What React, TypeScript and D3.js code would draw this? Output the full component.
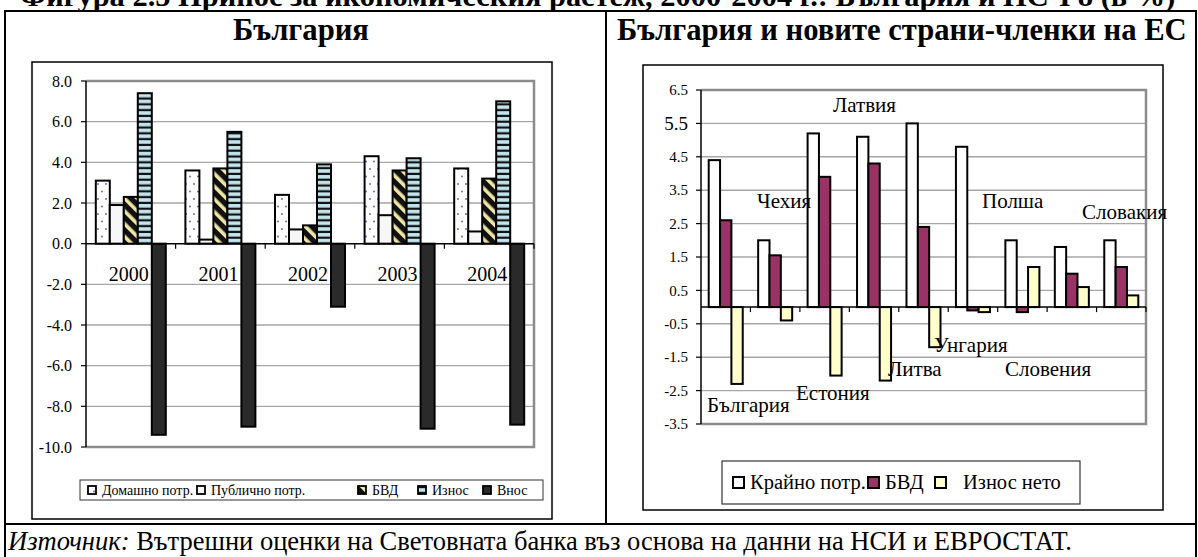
import React, { useEffect, useRef } from "react";
import * as d3 from "d3";

// Bulgaria: contributions to growth by component, 2000-2004 (%)
const years = ["2000", "2001", "2002", "2003", "2004"];
const bgSeries = ["Домашно потр.", "Публично потр.", "БВД", "Износ", "Внос"];
const domesticCons = [3.1, 3.6, 2.4, 4.3, 3.7];
const publicCons = [1.9, 0.2, 0.7, 1.4, 0.6];
const gfcfBg = [2.3, 3.7, 0.9, 3.6, 3.2];
const exportsBg = [7.4, 5.5, 3.9, 4.2, 7.0];
const importsBg = [-9.4, -9.0, -3.1, -9.1, -8.9];
const bgTicks = [8, 6, 4, 2, 0, -2, -4, -6, -8, -10];

// Bulgaria and the new EU member states
const countries = ["България", "Чехия", "Естония", "Латвия", "Литва", "Унгария", "Полша", "Словения", "Словакия"];
const euSeries = ["Крайно потр.", "БВД", "Износ нето"];
const finalCons = [4.4, 2.0, 5.2, 5.1, 5.5, 4.8, 2.0, 1.8, 2.0];
const gfcfEu = [2.6, 1.55, 3.9, 4.3, 2.4, -0.1, -0.15, 1.0, 1.2];
const netExports = [-2.3, -0.4, -2.05, -2.2, -1.2, -0.15, 1.2, 0.6, 0.35];
const euTicks = [6.5, 5.5, 4.5, 3.5, 2.5, 1.5, 0.5, -0.5, -1.5, -2.5, -3.5];

const FONT = "'Liberation Serif', 'Times New Roman', serif";
const fmt1 = (v: number) => v.toFixed(1);

type G = d3.Selection<SVGGElement, unknown, null, undefined>;
type S = d3.Selection<SVGSVGElement | null, unknown, null, undefined>;

// Size a text so that it spans [left, right] at the given baseline.
function fitText(parent: S | G, left: number, right: number, baseline: number,
  build: (t: d3.Selection<SVGTextElement, unknown, null, undefined>) => void, bold = false) {
  const probe = 20;
  const t = (parent as any).append("text").attr("x", left).attr("y", baseline)
    .attr("font-size", probe).attr("font-weight", bold ? "bold" : "normal");
  build(t);
  const w = (t.node() as SVGTextElement).getComputedTextLength() || 1;
  t.attr("font-size", (probe * (right - left)) / w);
}

export default function App() {
  const ref = useRef<SVGSVGElement>(null);

  useEffect(() => {
    document.body.style.margin = "0";
    const svg = d3.select(ref.current) as S;
    svg.selectAll("*").remove();
    svg.attr("font-family", FONT);

    // ---------- fill patterns ----------
    const defs = svg.append("defs");
    const dots = defs.append("pattern").attr("id", "pDots").attr("patternUnits", "userSpaceOnUse")
      .attr("width", 8).attr("height", 15);
    dots.append("rect").attr("width", 8).attr("height", 15).attr("fill", "#fff");
    dots.append("circle").attr("cx", 2).attr("cy", 4).attr("r", 0.9).attr("fill", "#5a5ab8");
    dots.append("circle").attr("cx", 6).attr("cy", 11.5).attr("r", 0.9).attr("fill", "#5a5ab8");

    const diag = defs.append("pattern").attr("id", "pDiag").attr("patternUnits", "userSpaceOnUse")
      .attr("width", 9).attr("height", 9).attr("patternTransform", "rotate(-45)");
    diag.append("rect").attr("width", 9).attr("height", 9).attr("fill", "#111");
    diag.append("rect").attr("width", 3.6).attr("height", 9).attr("fill", "#efe6a6");

    const hs = defs.append("pattern").attr("id", "pHStripe").attr("patternUnits", "userSpaceOnUse")
      .attr("width", 6).attr("height", 5.8);
    hs.append("rect").attr("width", 6).attr("height", 5.8).attr("fill", "#111");
    hs.append("rect").attr("y", 1).attr("width", 6).attr("height", 3.6).attr("fill", "#c3e5ee");

    const bgFills = ["url(#pDots)", "#f7f7f7", "url(#pDiag)", "url(#pHStripe)", "#2a2a2a"];
    const euFills = ["#ffffff", "#993366", "#ffffcc"];

    // ---------- table frame ----------
    fitText(svg, 20, 1176, 6, (t) =>
      t.text("Фигура 2.5 Принос за икономическия растеж, 2000-2004 г.: България и НСЧ 8 (в %)"), true);

    const frame = svg.append("g").attr("stroke", "#000").attr("stroke-width", 2);
    frame.append("line").attr("x1", 4).attr("x2", 1197).attr("y1", 11).attr("y2", 11);
    frame.append("line").attr("x1", 5).attr("x2", 5).attr("y1", 11).attr("y2", 557);
    frame.append("line").attr("x1", 606).attr("x2", 606).attr("y1", 11).attr("y2", 524);
    frame.append("line").attr("x1", 1196).attr("x2", 1196).attr("y1", 11).attr("y2", 557);
    frame.append("line").attr("x1", 5).attr("x2", 1196).attr("y1", 524).attr("y2", 524);

    fitText(svg, 233, 369, 40, (t) => t.text("България"), true);
    fitText(svg, 617, 1187, 40, (t) => t.text("България и новите страни-членки на ЕС"), true);

    fitText(svg, 8, 1072, 550, (t) => {
      t.append("tspan").attr("font-style", "italic").text("Източник:");
      t.append("tspan").text(" Вътрешни оценки на Световната банка въз основа на данни на НСИ и ЕВРОСТАТ.");
    });

    // ---------- shared plot helpers ----------
    type PlotCfg = {
      g: G;
      x0: d3.ScaleBand<string>;
      y: d3.ScaleLinear<number, number>;
      ticks: number[];
      labelX: number;
      labelSize: (v: number) => number;
    };
    const drawFrame = ({ g, x0, y, ticks, labelX, labelSize }: PlotCfg) => {
      const [xl, xr] = x0.range();
      const [ymin, ymax] = y.domain();
      ticks.filter((t) => t !== 0 && t !== ymin && t !== ymax).forEach((t) => {
        g.append("line").attr("x1", xl).attr("x2", xr).attr("y1", y(t)).attr("y2", y(t))
          .attr("stroke", "#a6a6a6").attr("stroke-width", 1.4);
      });
      // plot area border
      g.append("path")
        .attr("d", `M${xl},${y(ymax)}H${xr}V${y(ymin)}H${xl}`)
        .attr("fill", "none").attr("stroke", "#8c8c8c").attr("stroke-width", 2.5);
      // value axis
      g.append("line").attr("x1", xl).attr("x2", xl).attr("y1", y(ymax)).attr("y2", y(ymin))
        .attr("stroke", "#000").attr("stroke-width", 1.5);
      ticks.forEach((t) => {
        g.append("line").attr("x1", xl - 5).attr("x2", xl).attr("y1", y(t)).attr("y2", y(t))
          .attr("stroke", "#000").attr("stroke-width", 1.2);
        g.append("text").attr("x", labelX).attr("y", y(t)).attr("dy", "0.35em")
          .attr("text-anchor", "end").attr("font-size", labelSize(t)).text(fmt1(t));
      });
    };
    const drawZeroAxis = (g: G, x0: d3.ScaleBand<string>, y: d3.ScaleLinear<number, number>) => {
      const [xl, xr] = x0.range();
      g.append("line").attr("x1", xl).attr("x2", xr).attr("y1", y(0)).attr("y2", y(0))
        .attr("stroke", "#000").attr("stroke-width", 1.5);
      x0.domain().forEach((c) => {
        const bx = (x0(c) as number) + x0.bandwidth();
        g.append("line").attr("x1", bx).attr("x2", bx).attr("y1", y(0)).attr("y2", y(0) + 5)
          .attr("stroke", "#000").attr("stroke-width", 1.2);
      });
    };

    // ---------- left chart: Bulgaria ----------
    const L = svg.append("g") as G;
    L.append("rect").attr("x", 32).attr("y", 62).attr("width", 520).attr("height", 457)
      .attr("fill", "#fff").attr("stroke", "#000").attr("stroke-width", 1.5);

    const xL = d3.scaleBand<string>().domain(years).range([86, 534]);
    const xL1 = d3.scaleBand<string>().domain(bgSeries).range([0, xL.bandwidth()]).paddingOuter(0.7);
    const yL = d3.scaleLinear().domain([-10, 8]).range([447, 81]);
    drawFrame({ g: L, x0: xL, y: yL, ticks: bgTicks, labelX: 72, labelSize: () => 16 });

    // category labels sit under the bars
    years.forEach((yr) => {
      L.append("text").attr("x", (xL(yr) as number) + xL.bandwidth() / 2 - 2).attr("y", 281)
        .attr("text-anchor", "middle").attr("font-size", 20).text(yr);
    });

    const bgValues = [domesticCons, publicCons, gfcfBg, exportsBg, importsBg];
    bgSeries.forEach((s, si) => {
      L.append("g").selectAll("rect").data(bgValues[si]).join("rect")
        .attr("x", (_, i) => (xL(years[i]) as number) + (xL1(s) as number))
        .attr("width", xL1.bandwidth())
        .attr("y", (v) => yL(Math.max(0, v)))
        .attr("height", (v) => Math.abs(yL(v) - yL(0)))
        .attr("fill", bgFills[si]).attr("stroke", "#000").attr("stroke-width", 2);
    });
    drawZeroAxis(L, xL, yL);

    // legend
    L.append("rect").attr("x", 80).attr("y", 480).attr("width", 463).attr("height", 20)
      .attr("fill", "#fff").attr("stroke", "#333").attr("stroke-width", 1);
    const legLX = [88, 197, 358, 418, 483];
    bgSeries.forEach((s, i) => {
      L.append("rect").attr("x", legLX[i]).attr("y", 486).attr("width", 8).attr("height", 8)
        .attr("fill", bgFills[i]).attr("stroke", "#000").attr("stroke-width", 1.8);
      L.append("text").attr("x", legLX[i] + 14).attr("y", 495).attr("font-size", 14).text(s);
    });

    // ---------- right chart: new member states ----------
    const R = svg.append("g") as G;
    R.append("rect").attr("x", 643).attr("y", 65).attr("width", 520).attr("height", 445)
      .attr("fill", "#fff").attr("stroke", "#000").attr("stroke-width", 1.5);

    const xR = d3.scaleBand<string>().domain(countries).range([701, 1146]);
    const xR1 = d3.scaleBand<string>().domain(euSeries).range([0, xR.bandwidth()]).paddingOuter(0.68);
    const yR = d3.scaleLinear().domain([-3.5, 6.5]).range([424, 90]);
    drawFrame({ g: R, x0: xR, y: yR, ticks: euTicks, labelX: 688, labelSize: (t) => (t === 5.5 ? 19 : 15) });

    const euValues = [finalCons, gfcfEu, netExports];
    euSeries.forEach((s, si) => {
      R.append("g").selectAll("rect").data(euValues[si]).join("rect")
        .attr("x", (_, i) => (xR(countries[i]) as number) + (xR1(s) as number))
        .attr("width", xR1.bandwidth())
        .attr("y", (v) => yR(Math.max(0, v)))
        .attr("height", (v) => Math.abs(yR(v) - yR(0)))
        .attr("fill", euFills[si]).attr("stroke", "#000").attr("stroke-width", 2);
    });
    drawZeroAxis(R, xR, yR);

    // country names placed freely around the clusters
    const namePos: [number, number][] = [
      [707, 412], [757, 208], [796, 400], [833, 112], [888, 376],
      [934, 352], [982, 208], [1005, 376], [1082, 219],
    ];
    countries.forEach((c, i) => {
      R.append("text").attr("x", namePos[i][0]).attr("y", namePos[i][1]).attr("font-size", 21).text(c);
    });

    // legend
    R.append("rect").attr("x", 722).attr("y", 461).attr("width", 358).attr("height", 43)
      .attr("fill", "#fff").attr("stroke", "#333").attr("stroke-width", 1.2);
    const legRX = [733, 868, 935];
    const legRText = [750, 885, 963];
    euSeries.forEach((s, i) => {
      R.append("rect").attr("x", legRX[i]).attr("y", 477).attr("width", 11).attr("height", 11)
        .attr("fill", euFills[i]).attr("stroke", "#000").attr("stroke-width", 2);
      R.append("text").attr("x", legRText[i]).attr("y", 489).attr("font-size", 20.5).text(s);
    });
  }, []);

  return (
    <svg
      ref={ref}
      width={1198}
      height={557}
      style={{ display: "block", position: "absolute", left: 0, top: 0, background: "#fff" }}
    />
  );
}
